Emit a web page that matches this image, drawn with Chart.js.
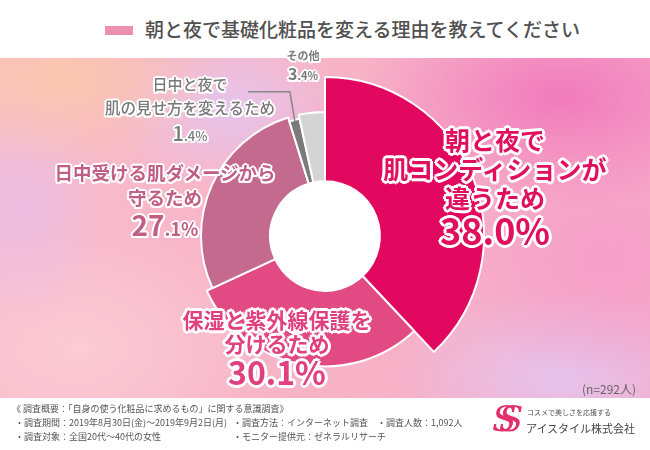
<!DOCTYPE html>
<html lang="ja">
<head>
<meta charset="utf-8">
<script src="https://cdn.jsdelivr.net/npm/chart.js@4/dist/chart.umd.min.js"></script>
<style>
  html, body { margin: 0; padding: 0; background: #fff; }
  #page {
    position: relative; width: 650px; height: 450px; overflow: hidden;
    font-family: "Noto Sans CJK JP", "Noto Sans", sans-serif; background: #fff;
  }
  #band {
    position: absolute; left: 0; top: 58px; width: 650px; height: 340px;
    background:
      radial-gradient(ellipse 160px 90px at 60px 20px, rgba(250,200,170,0.9), rgba(250,200,170,0) 100%),
      radial-gradient(ellipse 120px 80px at 230px 50px, rgba(225,200,245,0.8), rgba(225,200,245,0) 100%),
      radial-gradient(ellipse 90px 120px at 20px 150px, rgba(230,190,235,0.7), rgba(230,190,235,0) 100%),
      radial-gradient(ellipse 200px 110px at 560px 40px, rgba(240,110,185,0.8), rgba(240,110,185,0) 100%),
      radial-gradient(ellipse 150px 120px at 600px 200px, rgba(245,150,200,0.6), rgba(245,150,200,0) 100%),
      radial-gradient(ellipse 170px 90px at 560px 320px, rgba(225,200,245,0.8), rgba(225,200,245,0) 100%),
      radial-gradient(ellipse 190px 120px at 80px 290px, rgba(252,205,215,0.9), rgba(252,205,215,0) 100%),
      linear-gradient(90deg, #f8bccb 0%, #f7b3c6 50%, #f6aac8 100%);
  }
  #chartBox { position: absolute; left: 0; top: 0; width: 650px; height: 450px; }
  .title {
    position: absolute; left: 145px; top: 18px; font-size: 19px; color: #505050;
    font-weight: 500; white-space: nowrap; line-height: 1.2;
  }
  .mark { position: absolute; left: 105px; top: 26px; width: 28px; height: 9px; background: #ec90b1; }
  .lab { position: absolute; text-align: center; white-space: nowrap; font-weight: 700; line-height: 1; }
  .lab div { margin: 0; }
  .w2 { text-shadow: 2px 0 #fff, -2px 0 #fff, 0 2px #fff, 0 -2px #fff, 1.5px 1.5px #fff, -1.5px 1.5px #fff, 1.5px -1.5px #fff, -1.5px -1.5px #fff; }
  .w3 { text-shadow: 3px 0 #fff, -3px 0 #fff, 0 3px #fff, 0 -3px #fff, 2px 2px #fff, -2px 2px #fff, 2px -2px #fff, -2px -2px #fff; }
  .note { position: absolute; font-size: 9px; color: #555; white-space: nowrap; }
  .n { position: absolute; left: 582px; top: 380px; font-size: 12px; color: #666; white-space: nowrap; }
  .logoS { position: absolute; left: 492px; top: 398px; font-family: "DejaVu Serif", serif; font-style: italic; font-size: 36px; color: #e2306c; white-space: nowrap; }
  .logo1 { position: absolute; left: 527px; top: 407px; font-size: 7px; color: #555; white-space: nowrap; }
  .logo2 { position: absolute; left: 526px; top: 420px; font-size: 11px; color: #444; white-space: nowrap; }
</style>
</head>
<body>
<div id="page">
  <div id="band"></div>
  <div class="mark"></div>
  <div class="title">朝と夜で基礎化粧品を変える理由を教えてください</div>
  <div id="chartBox"><canvas id="pie" width="650" height="450"></canvas></div>

  <div class="lab w2" style="left:263px; top:50px; width:80px; color:#7a7a7a;">
    <div style="font-size:11px;">その他</div>
    <div style="margin-top:4px;"><span style="font-size:16px;">3</span><span style="font-size:11px;">.4%</span></div>
  </div>
  <div class="lab w2" style="left:95px; top:76px; width:190px; color:#7a7a7a; font-weight:500;">
    <div style="font-size:15px;">日中と夜で</div>
    <div style="font-size:15.5px; margin-top:9px;">肌の見せ方を変えるため</div>
    <div style="margin-top:7px;"><span style="font-size:20px;">1</span><span style="font-size:13px;">.4%</span></div>
  </div>
  <div class="lab w2" style="left:45px; top:163px; width:240px; color:#c05f85;">
    <div style="font-size:18.5px;">日中受ける肌ダメージから</div>
    <div style="font-size:18.5px; margin-top:6px;">守るため</div>
    <div style="margin-top:4px;"><span style="font-size:28px;">27</span><span style="font-size:18px;">.1%</span></div>
  </div>
  <div class="lab w3" style="left:365px; top:127px; width:260px; color:#e0105f;">
    <div style="font-size:25px;">朝と夜で</div>
    <div style="font-size:25px; margin-top:4px;">肌コンディションが</div>
    <div style="font-size:25px; margin-top:4px;">違うため</div>
    <div style="font-size:36px; margin-top:1px;">38.0%</div>
  </div>
  <div class="lab w3" style="left:167px; top:309px; width:220px; color:#e0407f;">
    <div style="font-size:21px;">保湿と紫外線保護を</div>
    <div style="font-size:21px; margin-top:3px;">分けるため</div>
    <div style="font-size:32px; margin-top:1px;">30.1%</div>
  </div>
  <div class="n">(n=292人)</div>

  <div class="note" style="left:12px; top:402px;">《 調査概要：「自身の使う化粧品に求めるもの」に関する意識調査》</div>
  <div class="note" style="left:15px; top:416px;">・調査期間：2019年8月30日(金)～2019年9月2日(月)</div>
  <div class="note" style="left:233px; top:416px;">・調査方法：インターネット調査</div>
  <div class="note" style="left:377px; top:416px;">・調査人数：1,092人</div>
  <div class="note" style="left:15px; top:430px;">・調査対象：全国20代～40代の女性</div>
  <div class="note" style="left:233px; top:430px;">・モニター提供元：ゼネラルリサーチ</div>

  <div class="logoS">S<span style="margin-left:-18px;">S</span></div>
  <div class="logo1">コスメで美しさを応援する</div>
  <div class="logo2">アイスタイル株式会社</div>
</div>

<script>
const reasons = [
  '朝と夜で肌コンディションが違うため',
  '保湿と紫外線保護を分けるため',
  '日中受ける肌ダメージから守るため',
  '日中と夜で肌の見せ方を変えるため',
  'その他'
];
const shares = [38.0, 30.1, 27.1, 1.4, 3.4];

const sliceColors = ['#e3085f', '#e24a83', '#c46a8e', '#7a7a7a', '#d4d4d4'];
// each slice sticks out by a different amount
const sliceReach = [1.0, 0.82, 0.78, 0.755, 0.78];

const reachPlugin = {
  id: 'reach',
  afterDatasetUpdate(chart, args) {
    const arcs = args.meta.data;
    arcs.forEach((arc, i) => {
      arc.outerRadius = arc.outerRadius * sliceReach[i];
    });
  },
  beforeDatasetsDraw(chart) {
    const arc = chart.getDatasetMeta(0).data[0];
    const ctx = chart.ctx;
    ctx.save();
    ctx.beginPath();
    ctx.arc(arc.x, arc.y, arc.innerRadius, 0, Math.PI * 2);
    ctx.fillStyle = '#ffffff';
    ctx.shadowColor = 'rgba(150,60,90,0.35)';
    ctx.shadowBlur = 4;
    ctx.fill();
    ctx.restore();
  },
  afterDatasetsDraw(chart) {
    // leader line for the small 1.4% slice
    const arc = chart.getDatasetMeta(0).data[3];
    const mid = (arc.startAngle + arc.endAngle) / 2;
    const x0 = arc.x + Math.cos(mid) * (arc.outerRadius - 2);
    const y0 = arc.y + Math.sin(mid) * (arc.outerRadius - 2);
    const ctx = chart.ctx;
    ctx.save();
    ctx.strokeStyle = '#888';
    ctx.lineWidth = 1.5;
    ctx.beginPath();
    ctx.moveTo(x0, y0);
    ctx.lineTo(x0 - 5, y0 - 30);
    ctx.lineTo(x0 - 47, y0 - 30);
    ctx.stroke();
    ctx.restore();
  }
};

new Chart(document.getElementById('pie'), {
  type: 'doughnut',
  data: {
    labels: reasons,
    datasets: [{
      data: shares,
      backgroundColor: sliceColors,
      borderColor: '#ffffff',
      borderWidth: 2
    }]
  },
  options: {
    responsive: false,
    animation: false,
    events: [],
    cutout: '34.5%',
    layout: { padding: { left: 165, right: 165, top: 76, bottom: 54 } },
    plugins: {
      legend: { display: false },
      tooltip: { enabled: false }
    }
  },
  plugins: [reachPlugin]
});
</script>
</body>
</html>
